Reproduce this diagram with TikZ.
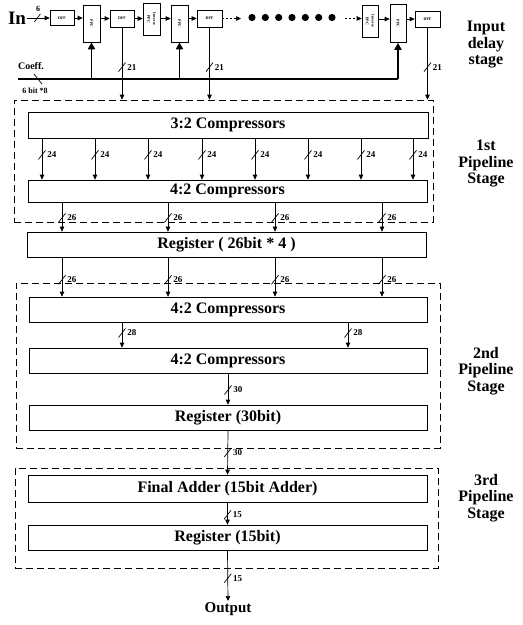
\documentclass[tikz,border=0pt]{standalone}
\usepackage{fontspec}
\setmainfont{Liberation Serif}
\usetikzlibrary{arrows.meta,calc}
\newcommand\busarr[4]{%
  \draw[arr] (#1) -- node[pos=#3,lab]{#4} (#2);
  \draw[slw] ($(#1)!#3!(#2)$) +(-3.5,4.5) -- +(3.5,-4.5);}
\begin{document}
\begin{tikzpicture}[x=1pt,y=-1pt,
  box/.style={draw,line width=0.7pt,inner sep=0pt,font=\fontsize{16}{18}\selectfont\bfseries},
  sbox/.style={draw,line width=0.6pt,inner sep=0pt,font=\fontsize{4}{4.4}\selectfont\bfseries},
  arr/.style={line width=0.7pt,-{Triangle[length=5pt,width=4.5pt]}},
  thk/.style={line width=1.8pt,-{Triangle[length=7pt,width=7pt]}},
  slw/.style={line width=0.7pt},
  stagebox/.style={draw,dash pattern=on 7pt off 4pt,line width=0.6pt,inner sep=0pt},
  lab/.style={font=\fontsize{9}{10}\selectfont\bfseries,inner sep=0pt,anchor=west,xshift=5pt},
  side/.style={align=center,font=\fontsize{16}{16.5}\selectfont\bfseries}
]
\useasboundingbox (0,0) rectangle (523,625);

% stage frames
\node[stagebox,minimum width=419pt,minimum height=122pt] (st1) at (223.5,161) {};
\node[stagebox,minimum width=424pt,minimum height=165pt] (st2) at (228,365.5) {};
\node[stagebox,minimum width=423pt,minimum height=100pt] (st3) at (226.5,518) {};

% input delay stage
\node[font=\fontsize{19}{20}\selectfont\bfseries,inner sep=1pt] (in) at (17,18) {In};
\node[sbox,minimum width=24pt,minimum height=15pt] (dff1) at (62,18) {DFF};
\node[sbox,minimum width=17pt,minimum height=37pt] (ppc1) at (91.5,23.5) {\rotatebox{-90}{PPC}};
\node[sbox,minimum width=24pt,minimum height=17pt] (dff2) at (122,18.5) {DFF};
\node[sbox,minimum width=17pt,minimum height=32pt] (ippc1) at (151.5,19) {\rotatebox{-90}{\shortstack{Inverse\\PPC}}};
\node[sbox,minimum width=17pt,minimum height=37pt] (ppc2) at (179.5,23.5) {\rotatebox{-90}{PPC}};
\node[sbox,minimum width=25pt,minimum height=17pt] (dff3) at (209.5,18.5) {DFF};
\node[sbox,minimum width=16pt,minimum height=32pt] (ippc2) at (370,21) {\rotatebox{-90}{\shortstack{Inverse\\PPC}}};
\node[sbox,minimum width=16pt,minimum height=38pt] (ppc3) at (398,23.5) {\rotatebox{-90}{PPC}};
\node[sbox,minimum width=25pt,minimum height=16pt] (dff4) at (427.5,19) {DFF};

\draw[arr] (in.east |- dff1.west) -- (dff1.west);
\draw[slw] ($(in.east |- dff1.west)!0.45!(dff1.west)$) +(-3,4) -- +(3,-4);
\node[font=\fontsize{8}{9}\selectfont\bfseries,inner sep=0pt] (six) at (38,9) {6};
\draw[arr] (dff1.east) -- (dff1.east -| ppc1.west);
\draw[arr] (ppc1.east |- dff2.west) -- (dff2.west);
\draw[arr] (dff2.east) -- (dff2.east -| ippc1.west);
\draw[arr] (ippc1.east |- dff3.west) -- (ppc2.west |- dff3.west);
\draw[arr] (ppc2.east |- dff3.west) -- (dff3.west);
\coordinate (d1) at (241,18.5);
\draw[arr,dash pattern=on 2pt off 2pt] (dff3.east) -- (d1);
\foreach \x in {252,265.33,278.67,292,305.33,318.67,332} \fill (\x,17.5) circle (3.6pt);
\coordinate (d2) at (345,18.5);
\draw[arr,dash pattern=on 2pt off 2pt] (d2) -- (d2 -| ippc2.west);
\draw[arr] (ippc2.east |- dff4.west) -- (ppc3.west |- dff4.west);
\draw[arr] (ppc3.east |- dff4.west) -- (dff4.west);

% coefficient bus
\coordinate (cb) at (18,79);
\draw[line width=1.5pt] (cb) -- (cb -| ppc3.south);
\draw[slw] (38,79) +(-4,-5) -- +(4,5);
\node[font=\fontsize{10}{11}\selectfont\bfseries,inner sep=0pt] (coeff) at (31,66) {Coeff.};
\node[font=\fontsize{8}{9}\selectfont\bfseries,inner sep=0pt] (sixbit) at (35,91) {6 bit *8};
\draw[thk] (cb -| ppc1.south) -- (ppc1.south);
\draw[thk] (cb -| ppc2.south) -- (ppc2.south);
\draw[thk] (cb -| ppc3.south) -- (ppc3.south);

\busarr{dff2.south}{dff2.south |- st1.north}{0.55}{21}
\busarr{dff3.south}{dff3.south |- st1.north}{0.55}{21}
\busarr{dff4.south}{dff4.south |- st1.north}{0.55}{21}

% main blocks
\node[box,minimum width=400pt,minimum height=26pt] (c32) at (228,125) {3:2 Compressors};
\node[box,minimum width=399pt,minimum height=22pt] (c42a) at (227.5,191) {4:2 Compressors};
\node[box,minimum width=399pt,minimum height=25pt] (reg1) at (226.5,244.5) {Register ( 26bit * 4 )};
\node[box,minimum width=398pt,minimum height=25pt] (c42b) at (228,309.5) {4:2 Compressors};
\node[box,minimum width=398pt,minimum height=25pt] (c42c) at (228,360.5) {4:2 Compressors};
\node[box,minimum width=398pt,minimum height=25pt] (reg2) at (228,417.5) {Register (30bit)};
\node[box,minimum width=399pt,minimum height=27pt] (fa) at (227.5,488.5) {Final Adder (15bit Adder)};
\node[box,minimum width=399pt,minimum height=25pt] (reg3) at (227.5,537.5) {Register (15bit)};
\node[font=\fontsize{15}{16}\selectfont\bfseries,inner sep=1pt,anchor=north] (out) at (228,601) {Output};

\foreach \x in {42,95,148,202,255,308,361,413}
  {\busarr{c32.south -| \x,0}{c42a.north -| \x,0}{0.4}{24}}
\foreach \x in {62,168,275,382}
  {\busarr{c42a.south -| \x,0}{reg1.north -| \x,0}{0.53}{26}
   \busarr{reg1.south -| \x,0}{c42b.north -| \x,0}{0.57}{26}}
\foreach \x in {122,348}
  {\busarr{c42b.south -| \x,0}{c42c.north -| \x,0}{0.42}{28}}
\busarr{c42c.south}{reg2.north}{0.53}{30}
\busarr{reg2.south}{fa.north}{0.5}{30}
\busarr{fa.south}{reg3.north}{0.56}{15}
\busarr{reg3.south}{out.north}{0.55}{15}

% stage labels
\node[side] (l0) at (486,45) {Input\\delay\\stage};
\node[side] (l1) at (486,163.5) {1st\\Pipeline\\Stage};
\node[side] (l2) at (486,371) {2nd\\Pipeline\\Stage};
\node[side] (l3) at (486,498) {3rd\\Pipeline\\Stage};
\end{tikzpicture}
\end{document}
